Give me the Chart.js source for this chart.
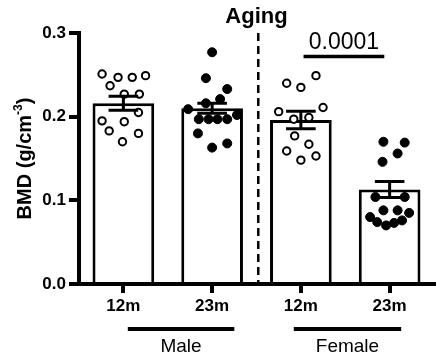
<!DOCTYPE html>
<html><head><meta charset="utf-8">
<script src="https://cdn.jsdelivr.net/npm/chart.js@4/dist/chart.umd.min.js"></script>
<style>html,body{margin:0;padding:0;background:#fff;} #wrap{width:440px;height:362px;position:relative;}</style>
</head><body><div id="wrap"><canvas id="c"></canvas></div>
<script>
// ---------- data ----------
const categories = ['12m', '23m', '12m', '23m'];
const groupNames = ['Male', 'Female'];
const chartTitle = 'Aging';
const yTitleParts = ['BMD (g/cm', '-3', ')'];
const yTickLabels = ['0.0', '0.1', '0.2', '0.3'];
const pValueText = '0.0001';

const barMeans = [0.216, 0.210, 0.196, 0.113];
const barSem   = [0.0084, 0.006, 0.0105, 0.0095];

const male12m       = [0.251, 0.237, 0.247, 0.247, 0.249, 0.227, 0.227, 0.205, 0.195, 0.194, 0.183, 0.180, 0.170];
const male12mJitter = [-0.24, -0.15, -0.06, 0.10, 0.25, 0.01, 0.18, 0.17, -0.24, 0.01, -0.16, 0.17, -0.01];

const male23m       = [0.277, 0.246, 0.233, 0.221, 0.216, 0.209, 0.197, 0.197, 0.197, 0.197, 0.202, 0.180, 0.163, 0.168];
const male23mJitter = [0.00, -0.07, 0.17, 0.09, -0.07, -0.27, -0.15, -0.04, 0.06, 0.17, 0.28, -0.16, 0.00, 0.17];

const female12m       = [0.240, 0.235, 0.249, 0.211, 0.206, 0.197, 0.199, 0.177, 0.167, 0.159, 0.153, 0.148];
const female12mJitter = [-0.16, 0.00, 0.17, 0.25, -0.25, -0.08, 0.09, -0.07, 0.09, -0.16, 0.17, 0.00];

const female23m       = [0.170, 0.169, 0.156, 0.146, 0.104, 0.104, 0.088, 0.088, 0.080, 0.074, 0.070, 0.073, 0.076, 0.085];
const female23mJitter = [-0.07, 0.17, 0.09, -0.08, -0.16, 0.17, -0.07, 0.09, -0.22, -0.14, -0.04, 0.05, 0.14, 0.22];

// ---------- helpers ----------
const FONT = "'Liberation Sans', Arial, Helvetica, sans-serif";
function pts(vals, jit, idx) { return vals.map((v, k) => ({ x: idx + jit[k], y: v })); }

const openDot = { pointRadius: 3.7, pointBorderWidth: 2, pointBackgroundColor: '#fff', pointBorderColor: '#000' };
const filledDot = { pointRadius: 4.5, pointBorderWidth: 1, pointBackgroundColor: '#000', pointBorderColor: '#000' };

const errorBarPlugin = {
  id: 'errorBars',
  afterDatasetsDraw(chart) {
    const meta = chart.getDatasetMeta(0);
    const y = chart.scales.y;
    const ctx = chart.ctx;
    ctx.save();
    ctx.strokeStyle = '#000';
    ctx.lineWidth = 3;
    meta.data.forEach((bar, i) => {
      const cx = bar.x;
      const yTop = y.getPixelForValue(barMeans[i] + barSem[i]);
      const yBot = y.getPixelForValue(barMeans[i] - barSem[i]);
      const half = bar.width * 0.24;
      ctx.beginPath();
      ctx.moveTo(cx, yTop); ctx.lineTo(cx, yBot);
      ctx.moveTo(cx - half, yTop); ctx.lineTo(cx + half, yTop);
      ctx.moveTo(cx - half, yBot); ctx.lineTo(cx + half, yBot);
      ctx.stroke();
    });
    ctx.restore();
  }
};

const annotationPlugin = {
  id: 'annotations',
  afterDraw(chart) {
    const ctx = chart.ctx, xd = chart.scales.xd, y = chart.scales.y, area = chart.chartArea;
    ctx.save();
    ctx.strokeStyle = '#000';
    ctx.fillStyle = '#000';
    // dashed divider between sexes
    const dx = xd.getPixelForValue(1.52);
    ctx.setLineDash([8, 5]);
    ctx.lineWidth = 2.5;
    ctx.beginPath(); ctx.moveTo(dx, area.top); ctx.lineTo(dx, area.bottom); ctx.stroke();
    ctx.setLineDash([]);
    // significance bar
    const py = y.getPixelForValue(0.272);
    const p1 = xd.getPixelForValue(2.03), p2 = xd.getPixelForValue(2.94);
    ctx.lineWidth = 3.5;
    ctx.beginPath(); ctx.moveTo(p1, py); ctx.lineTo(p2, py); ctx.stroke();
    ctx.font = '23px ' + FONT;
    ctx.textAlign = 'center';
    ctx.textBaseline = 'alphabetic';
    ctx.fillText(pValueText, (p1 + p2) / 2, py - 7);
    // group lines + labels
    const spans = [[0.05, 1.25], [1.92, 3.13]];
    ctx.lineWidth = 4;
    spans.forEach((s, i) => {
      const a = xd.getPixelForValue(s[0]), b = xd.getPixelForValue(s[1]);
      const ly = area.bottom + 45;
      ctx.beginPath(); ctx.moveTo(a, ly); ctx.lineTo(b, ly); ctx.stroke();
      ctx.font = '19px ' + FONT;
      ctx.textBaseline = 'alphabetic';
      ctx.fillText(groupNames[i], (a + b) / 2, area.bottom + 68);
    });
    // y axis title with superscript
    const big = 'bold 20px ' + FONT, small = 'bold 12px ' + FONT;
    ctx.font = big; const w0 = ctx.measureText(yTitleParts[0]).width;
    const w2 = ctx.measureText(yTitleParts[2]).width;
    ctx.font = small; const w1 = ctx.measureText(yTitleParts[1]).width;
    const total = w0 + w1 + w2;
    ctx.translate(31, (area.top + area.bottom) / 2);
    ctx.rotate(-Math.PI / 2);
    ctx.textAlign = 'left';
    ctx.textBaseline = 'alphabetic';
    let x = -total / 2;
    ctx.font = big; ctx.fillText(yTitleParts[0], x, 0); x += w0;
    ctx.font = small; ctx.fillText(yTitleParts[1], x, -9); x += w1;
    ctx.font = big; ctx.fillText(yTitleParts[2], x, 0);
    ctx.restore();
  }
};

new Chart(document.getElementById('c'), {
  type: 'bar',
  data: {
    labels: categories,
    datasets: [
      { type: 'bar', data: barMeans, backgroundColor: '#fff', borderColor: '#000', borderWidth: 3,
        barPercentage: 0.695, categoryPercentage: 1, grouped: false, order: 5, xAxisID: 'x', yAxisID: 'y' },
      Object.assign({ type: 'scatter', data: pts(male12m, male12mJitter, 0), xAxisID: 'xd', yAxisID: 'y', order: 1 }, openDot),
      Object.assign({ type: 'scatter', data: pts(male23m, male23mJitter, 1), xAxisID: 'xd', yAxisID: 'y', order: 1 }, filledDot),
      Object.assign({ type: 'scatter', data: pts(female12m, female12mJitter, 2), xAxisID: 'xd', yAxisID: 'y', order: 1 }, openDot),
      Object.assign({ type: 'scatter', data: pts(female23m, female23mJitter, 3), xAxisID: 'xd', yAxisID: 'y', order: 1 }, filledDot)
    ]
  },
  options: {
    responsive: true,
    maintainAspectRatio: false,
    animation: false,
    events: [],
    layout: { padding: { left: 0, right: 1, top: 0, bottom: 0 } },
    plugins: {
      legend: { display: false },
      tooltip: { enabled: false },
      title: { display: true, text: chartTitle, fullSize: false, color: '#000',
               font: { family: FONT, size: 22, weight: 'bold', lineHeight: 1.2 },
               padding: { top: 4, bottom: 2.6 } }
    },
    scales: {
      x: {
        type: 'category', offset: true, position: 'bottom',
        grid: { offset: false, drawOnChartArea: false, drawTicks: true, tickLength: 9, tickWidth: 4, tickColor: '#000', color: '#000', lineWidth: 4 },
        border: { display: true, width: 4, color: '#000' },
        ticks: { color: '#000', padding: 3.5, font: { family: FONT, size: 17, weight: 'bold' }, maxRotation: 0, autoSkip: false },
        afterFit(s) { s.height = 78; }
      },
      xd: { type: 'linear', min: -0.5, max: 3.5, offset: false, display: false, position: 'bottom' },
      y: {
        type: 'linear', min: 0, max: 0.3, position: 'left',
        grid: { drawOnChartArea: false, drawTicks: true, tickLength: 10, tickWidth: 4, tickColor: '#000', color: '#000', lineWidth: 4 },
        border: { display: true, width: 4, color: '#000' },
        ticks: { stepSize: 0.1, color: '#000', padding: 3, font: { family: FONT, size: 17, weight: 'bold' },
                 callback: (v, i) => yTickLabels[i] },
        afterFit(s) { s.width = 79; }
      }
    }
  },
  plugins: [errorBarPlugin, annotationPlugin]
});
</script></body></html>
